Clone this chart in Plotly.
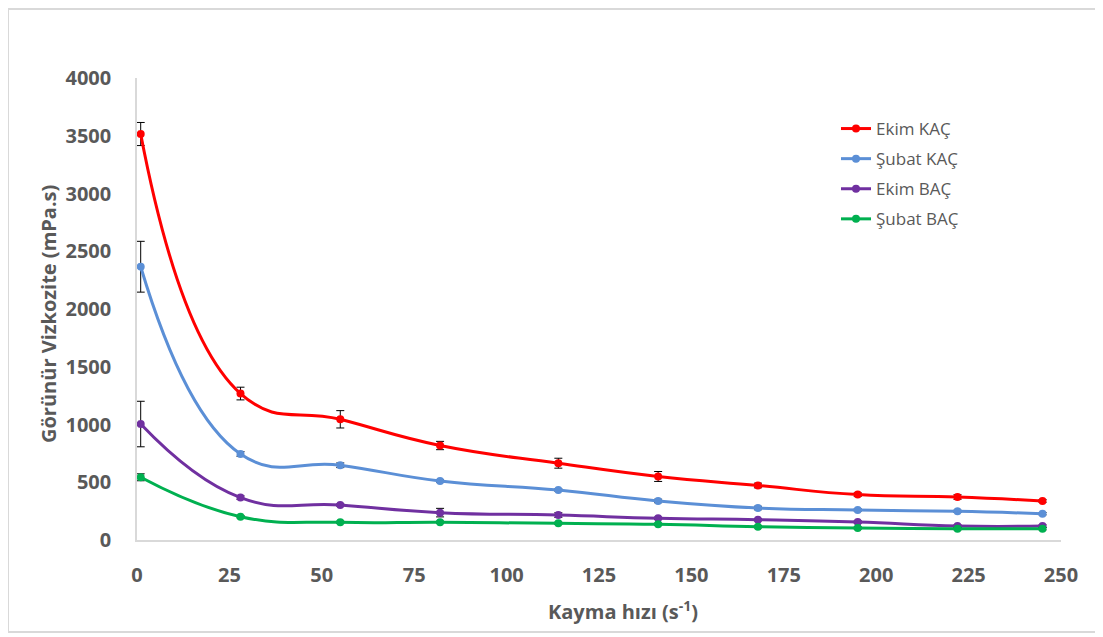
import plotly.graph_objects as go

shear_rate = [1, 28, 55, 82, 114, 141, 168, 195, 222, 245]

series_names = ["Ekim KAÇ", "Şubat KAÇ", "Ekim BAÇ", "Şubat BAÇ"]
ekim_kac = [3515, 1268, 1045, 818, 665, 550, 472, 393, 372, 338]
subat_kac = [2366, 745, 647, 511, 433, 338, 277, 260, 248, 228]
ekim_bac = [1004, 367, 303, 237, 216, 188, 176, 156, 121, 121]
subat_bac = [543, 202, 153, 153, 144, 136, 115, 104, 98, 98]

ekim_kac_err = [100, 55, 75, 36, 43, 43, 20, 15, 20, 12]
subat_kac_err = [220, 20, 20, 10, 10, 15, 15, 10, 10, 10]
ekim_bac_err = [197, 15, 10, 37, 20, 10, 10, 10, 10, 10]
subat_bac_err = [30, 10, 10, 10, 10, 10, 10, 10, 10, 10]

x_ticks = [0, 25, 50, 75, 100, 125, 150, 175, 200, 225, 250]
y_ticks = [0, 500, 1000, 1500, 2000, 2500, 3000, 3500, 4000]

colors = ["#FF0000", "#5B8FD6", "#7030A0", "#00B050"]
values = [ekim_kac, subat_kac, ekim_bac, subat_bac]
errors = [ekim_kac_err, subat_kac_err, ekim_bac_err, subat_bac_err]

fig = go.Figure()
for name, vals, errs, col in zip(series_names, values, errors, colors):
    fig.add_trace(go.Scatter(
        x=shear_rate, y=vals, name=name, mode="lines+markers", legendgroup=name,
        line=dict(color=col, width=3, shape="spline", smoothing=1.3),
        marker=dict(color=col, size=8),
        error_y=dict(type="data", array=errs, visible=True, color="black", thickness=1, width=4),
    ))

# page offset (body margin) in the screenshot
OFF = 8
W, H = 1103 - OFF, 637 - OFF
# plot area in page pixels: left 137, right 1061, top 78, bottom 540
ml = 137 - OFF
mt = 78 - OFF
mr = W - (1061 - OFF)
mb = H - (540 - OFF)
pw, ph = W - ml - mr, H - mt - mb

def px_to_paper_x(px):
    return (px - OFF - ml) / pw

def px_to_paper_y(py):
    return (H - mb - (py - OFF)) / ph

fig.update_layout(
    width=W, height=H,
    margin=dict(l=ml, r=mr, t=mt, b=mb),
    paper_bgcolor="white", plot_bgcolor="white",
    font=dict(family="Open Sans", color="#595959"),
    legend=dict(
        x=px_to_paper_x(836), y=px_to_paper_y(111), xanchor="left", yanchor="top",
        font=dict(size=17, color="#595959"), bgcolor="rgba(0,0,0,0)",
        tracegroupgap=5, itemwidth=30,
    ),
    showlegend=True,
    xaxis=dict(
        range=[0, 250], tickvals=x_ticks, showgrid=False, zeroline=False,
        showline=True, linecolor="#D9D9D9", linewidth=1.5,
        tickfont=dict(size=20, color="#595959", family="Open Sans", weight="bold"),
        ticks="", ticklabelstandoff=16,
    ),
    yaxis=dict(
        range=[0, 4000], tickvals=y_ticks, showgrid=False, zeroline=False,
        showline=True, linecolor="#D9D9D9", linewidth=1.5,
        tickfont=dict(size=20, color="#595959", family="Open Sans", weight="bold"),
        ticks="", ticklabelstandoff=20,
    ),
    annotations=[
        dict(text="Kayma hızı (s<sup>-1</sup>)", xref="paper", yref="paper",
             x=px_to_paper_x(623), y=px_to_paper_y(610), xanchor="center", yanchor="middle",
             showarrow=False, font=dict(size=20, color="#595959", family="Open Sans", weight="bold")),
        dict(text="Görünür Vizkozite (mPa.s)", xref="paper", yref="paper",
             x=px_to_paper_x(48), y=px_to_paper_y(314), xanchor="center", yanchor="middle",
             textangle=-90, showarrow=False,
             font=dict(size=20, color="#595959", family="Open Sans", weight="bold")),
    ],
    shapes=[
        dict(type="rect", xref="paper", yref="paper",
             x0=px_to_paper_x(8), x1=px_to_paper_x(1098),
             y0=px_to_paper_y(632), y1=px_to_paper_y(9),
             line=dict(color="#D9D9D9", width=2), fillcolor="rgba(0,0,0,0)", layer="below"),
    ],
)

fig.write_html("out.html")
